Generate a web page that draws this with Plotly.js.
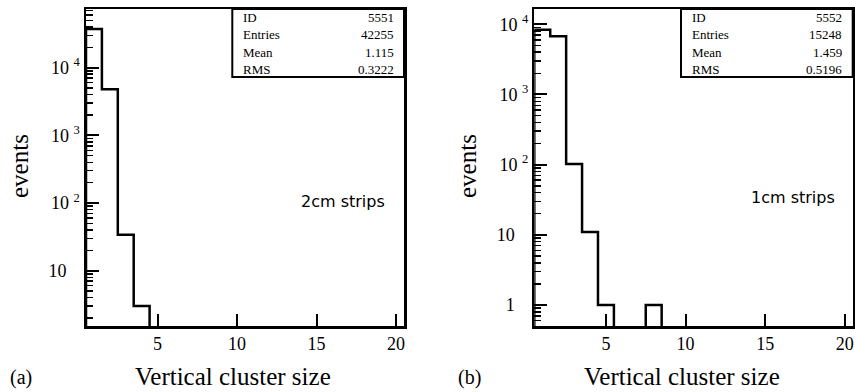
<!DOCTYPE html>
<html>
<head>
<meta charset="utf-8">
<script src="https://cdn.plot.ly/plotly-3.0.1.min.js"></script>
<style>html,body{margin:0;padding:0;background:#fff;}#chart{width:855px;height:392px;}</style>
</head>
<body>
<div id="chart"></div>
<script>
// ---- data ----
const clusterSize = [1,2,3,4,5,6,7,8,9,10,11,12,13,14,15,16,17,18,19,20];
const eventsA = [37436,4782,34,3,0,0,0,0,0,0,0,0,0,0,0,0,0,0,0,0];   // 2cm strips
const eventsB = [8382,6751,102,11,1,0,0,1,0,0,0,0,0,0,0,0,0,0,0,0];  // 1cm strips
const xTickVals = [5,10,15,20];
const yTickValsA = [10,100,1000,10000];
const yTickTextA = ["10&nbsp;&nbsp;&nbsp;","10 <sup>2</sup>","10 <sup>3</sup>","10 <sup>4</sup>"];
const yTickValsB = [1,10,100,1000,10000];
const yTickTextB = ["1&nbsp;&nbsp;&nbsp;","10&nbsp;&nbsp;&nbsp;","10 <sup>2</sup>","10 <sup>3</sup>","10 <sup>4</sup>"];
const statLabels = ["ID","Entries","Mean","RMS"];
const statsA = ["5551","42255","1.115","0.3222"];
const statsB = ["5552","15248","1.459","0.5196"];
const stripLabelA = "2cm strips";
const stripLabelB = "1cm strips";
const panelA = "(a)", panelB = "(b)";
const xTitle = "Vertical cluster size";
const yTitle = "events";

// ---- helpers ----
const W = 855, H = 392;
const px = x => x / W;
const py = y => 1 - y / H;
const FLOOR = 1e-3; // empty bins drawn below the visible axis range
const rangeA = [0.183, 4.867], rangeB = [-0.299, 4.218];

// minor log ticks: 2..9 in every decade
const minorLog = [];
for (let d = -1; d <= 5; d++) for (let k = 2; k <= 9; k++) minorLog.push(k * Math.pow(10, d));

function histTrace(counts, xa, ya) {
  const xs = [clusterSize[0] - 0.5];
  const ys = [FLOOR];
  counts.forEach((c, i) => { xs.push(clusterSize[i] - 0.5); ys.push(c > 0 ? c : FLOOR); });
  xs.push(clusterSize[clusterSize.length - 1] + 0.5);
  ys.push(counts[counts.length - 1] > 0 ? counts[counts.length - 1] : FLOOR);
  return {x: xs, y: ys, xaxis: xa, yaxis: ya, type: 'scatter', mode: 'lines',
          line: {shape: 'hv', color: '#000', width: 2.5}, hoverinfo: 'skip'};
}

const serif = 'Liberation Serif, Times New Roman, serif';
function xAxis(d0, d1, anchor) {
  return {domain: [d0, d1], anchor: anchor, range: [0.5, 20.5], showgrid: false, zeroline: false,
    showline: true, linecolor: '#000', linewidth: 2.5, mirror: true,
    ticks: 'inside', ticklen: 12, tickwidth: 2, tickcolor: '#000',
    tickmode: 'array', tickvals: xTickVals, tickfont: {family: serif, size: 18, color: '#000'}};
}
function yAxis(range, tv, tt, anchor) {
  return {type: 'log', domain: [py(326), py(9)], anchor: anchor, range: range, showgrid: false, zeroline: false,
    showline: true, linecolor: '#000', linewidth: 2.5, mirror: true,
    ticks: 'inside', ticklen: 13, tickwidth: 2, tickcolor: '#000',
    tickmode: 'array', tickvals: tv, ticktext: tt, tickfont: {family: serif, size: 18, color: '#000'},
    minor: {ticks: 'inside', ticklen: 7, tickwidth: 1.5, tickcolor: '#000', tickmode: 'array',
            tickvals: minorLog, showgrid: false}};
}

const annotations = [];
const shapes = [];
function statsBox(boxL, boxR, labL, valR, vals) {
  shapes.push({type: 'rect', xref: 'paper', yref: 'paper', x0: px(boxL), x1: px(boxR), y0: py(77), y1: py(9),
               line: {color: '#000', width: 2}, fillcolor: 'rgba(0,0,0,0)'});
  statLabels.forEach((l, i) => {
    const yc = 17.5 + 17.3 * i;
    annotations.push({xref: 'paper', yref: 'paper', x: px(labL), y: py(yc), xanchor: 'left', yanchor: 'middle',
      text: l, showarrow: false, font: {family: serif, size: 13, color: '#000'}});
    annotations.push({xref: 'paper', yref: 'paper', x: px(valR), y: py(yc), xanchor: 'right', yanchor: 'middle',
      text: vals[i], showarrow: false, font: {family: serif, size: 13, color: '#000'}});
  });
}
statsBox(232.3, 404, 240.5, 395.5, statsA);
statsBox(681, 852.7, 689.5, 844, statsB);

function txt(x, y, t, font, extra) {
  annotations.push(Object.assign({xref: 'paper', yref: 'paper', x: px(x), y: py(y), text: t, showarrow: false,
    xanchor: 'center', yanchor: 'middle', font: font}, extra || {}));
}
const sans = {family: 'DejaVu Sans, sans-serif', size: 16, color: '#000'};
txt(343, 201, stripLabelA, sans);
txt(793, 198, stripLabelB, sans);
const big = {family: serif, size: 25, color: '#000'};
txt(233.5, 376, xTitle, big);
txt(681.7, 376, xTitle, big);
txt(19, 166, yTitle, big, {textangle: -90});
txt(467, 166, yTitle, big, {textangle: -90});
const mid = {family: serif, size: 20, color: '#000'};
txt(8, 377, panelA, mid, {xanchor: 'left'});
txt(456, 377, panelB, mid, {xanchor: 'left'});

const layout = {
  width: W, height: H, margin: {l: 0, r: 0, t: 0, b: 0},
  paper_bgcolor: '#fff', plot_bgcolor: '#fff', showlegend: false,
  xaxis: xAxis(px(86), px(404), 'y'),
  yaxis: yAxis(rangeA, yTickValsA, yTickTextA, 'x'),
  xaxis2: xAxis(px(534.3), px(852.7), 'y2'),
  yaxis2: yAxis(rangeB, yTickValsB, yTickTextB, 'x2'),
  annotations: annotations, shapes: shapes
};

Plotly.newPlot('chart', [histTrace(eventsA, 'x', 'y'), histTrace(eventsB, 'x2', 'y2')], layout,
  {staticPlot: true, displayModeBar: false});
</script>
</body>
</html>
